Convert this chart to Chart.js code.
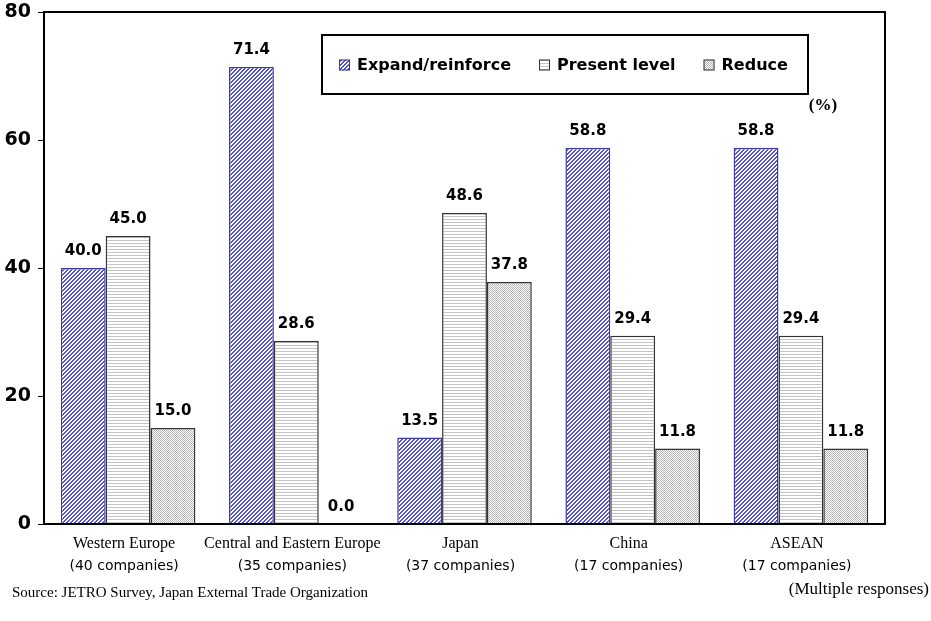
<!DOCTYPE html>
<html>
<head>
<meta charset="utf-8">
<script src="https://cdn.jsdelivr.net/npm/chart.js@4/dist/chart.umd.min.js"></script>
<style>
  html, body { margin: 0; padding: 0; background: #fff; }
  #wrap { width: 931px; height: 621px; position: relative; }
</style>
</head>
<body>
<div id="wrap"><canvas id="chart" width="931" height="621"></canvas></div>
<script>
// Datos de la gráfica
const regions = ['Western Europe', 'Central and Eastern Europe', 'Japan', 'China', 'ASEAN'];
const companies = ['(40 companies)', '(35 companies)', '(37 companies)', '(17 companies)', '(17 companies)'];
const seriesNames = ['Expand/reinforce', 'Present level', 'Reduce'];
const expandValues = [40.0, 71.4, 13.5, 58.8, 58.8];
const presentValues = [45.0, 28.6, 48.6, 29.4, 29.4];
const reduceValues = [15.0, 0.0, 37.8, 11.8, 11.8];
const yTicks = [0, 20, 40, 60, 80];

const SERIF = '"Liberation Serif", "Times New Roman", serif';
const SANS = '"DejaVu Sans", sans-serif';

// Crear patrones de relleno (tramas)
function makePattern(size, painter) {
    const c = document.createElement('canvas');
    c.width = size; c.height = size;
    const g = c.getContext('2d');
    g.fillStyle = '#fff';
    g.fillRect(0, 0, size, size);
    painter(g);
    return document.createElement('canvas').getContext('2d').createPattern(c, 'repeat');
}

const expandFill = makePattern(4, (g) => {
    g.fillStyle = '#5252c6';
    for (let x = 0; x < 4; x++) for (let y = 0; y < 4; y++)
        if ((x + y) % 4 < 2) g.fillRect(x, y, 1, 1);
});
const presentFill = makePattern(3, (g) => {
    g.fillStyle = '#c4c4c4';
    g.fillRect(0, 0, 3, 1);
});
const reduceFill = makePattern(2, (g) => {
    g.fillStyle = '#b4b4b4';
    g.fillRect(0, 0, 1, 1);
    g.fillRect(1, 1, 1, 1);
});

// Marco, etiquetas de valores, leyenda y textos
const extrasPlugin = {
    id: 'extras',
    afterDraw(chart) {
        const ctx = chart.ctx;
        const area = chart.chartArea;
        const xScale = chart.scales.x;
        ctx.save();

        // marco del área
        ctx.strokeStyle = '#000';
        ctx.lineWidth = 2;
        ctx.strokeRect(area.left, area.top, area.right - area.left, area.bottom - area.top);

        // valores sobre las barras
        ctx.fillStyle = '#000';
        ctx.font = 'bold 15px ' + SANS;
        ctx.textAlign = 'center';
        ctx.textBaseline = 'bottom';
        chart.data.datasets.forEach((ds, i) => {
            chart.getDatasetMeta(i).data.forEach((bar, j) => {
                ctx.fillText(ds.data[j].toFixed(1), bar.x, bar.y - 9);
            });
        });

        // etiquetas de categorías
        ctx.textBaseline = 'middle';
        regions.forEach((name, j) => {
            const x = xScale.getPixelForTick(j);
            ctx.font = '16px ' + SERIF;
            ctx.fillText(name, x - 4, area.bottom + 20);
            ctx.font = '14px ' + SANS;
            ctx.fillText(companies[j], x - 4, area.bottom + 42);
        });

        // leyenda
        const lx = area.left + 278, ly = area.top + 23, lw = 486, lh = 59;
        ctx.fillStyle = '#fff';
        ctx.fillRect(lx, ly, lw, lh);
        ctx.strokeStyle = '#000';
        ctx.lineWidth = 2;
        ctx.strokeRect(lx, ly, lw, lh);
        ctx.font = 'bold 16px ' + SANS;
        ctx.textAlign = 'left';
        let cx = lx + 17;
        const cy = ly + lh / 2 + 1;
        chart.data.datasets.forEach((ds) => {
            ctx.fillStyle = ds.backgroundColor;
            ctx.fillRect(cx, cy - 6, 11, 11);
            ctx.strokeStyle = ds.borderColor;
            ctx.lineWidth = 1;
            ctx.strokeRect(cx + 0.5, cy - 5.5, 10, 10);
            ctx.fillStyle = '#000';
            ctx.fillText(ds.label, cx + 18, cy);
            cx += 18 + ctx.measureText(ds.label).width + 28;
        });

        // (%)
        ctx.font = 'bold 17px ' + SERIF;
        ctx.textAlign = 'center';
        ctx.fillText('(%)', lx + lw + 15, ly + lh + 12);

        // fuente y nota
        ctx.font = '15px ' + SERIF;
        ctx.textAlign = 'left';
        ctx.fillText('Source: JETRO Survey, Japan External Trade Organization', 12, 593);
        ctx.font = '17px ' + SERIF;
        ctx.textAlign = 'right';
        ctx.fillText('(Multiple responses)', 929, 590);

        ctx.restore();
    }
};

new Chart(document.getElementById('chart'), {
    type: 'bar',
    data: {
        labels: regions,
        datasets: [
            { label: seriesNames[0], data: expandValues, backgroundColor: expandFill, borderColor: '#3a3aa8', borderWidth: 1.5 },
            { label: seriesNames[1], data: presentValues, backgroundColor: presentFill, borderColor: '#333', borderWidth: 1.5 },
            { label: seriesNames[2], data: reduceValues, backgroundColor: reduceFill, borderColor: '#333', borderWidth: 1.5 },
        ],
    },
    options: {
        responsive: false,
        animation: false,
        layout: { padding: { top: 12, right: 46, left: 0, bottom: 0 } },
        datasets: { bar: { categoryPercentage: 0.8, barPercentage: 1.0 } },
        plugins: { legend: { display: false }, tooltip: { enabled: false } },
        scales: {
            x: {
                grid: { display: false },
                border: { display: true, color: '#000', width: 2 },
                ticks: { display: false },
                afterFit(scale) { scale.height = 97; },
            },
            y: {
                min: 0,
                max: 80,
                afterBuildTicks(scale) { scale.ticks = yTicks.map((v) => ({ value: v })); },
                afterFit(scale) {
                    scale.width = 44;
                    scale.paddingTop = 0;
                    scale.paddingBottom = 0;
                },
                grid: { drawOnChartArea: false, tickLength: 6, tickColor: '#000', tickWidth: 1 },
                border: { display: true, color: '#000', width: 2 },
                ticks: { color: '#000', padding: 7, font: { family: SANS, size: 19, weight: 'bold' } },
            },
        },
    },
    plugins: [extrasPlugin],
});
</script>
</body>
</html>
